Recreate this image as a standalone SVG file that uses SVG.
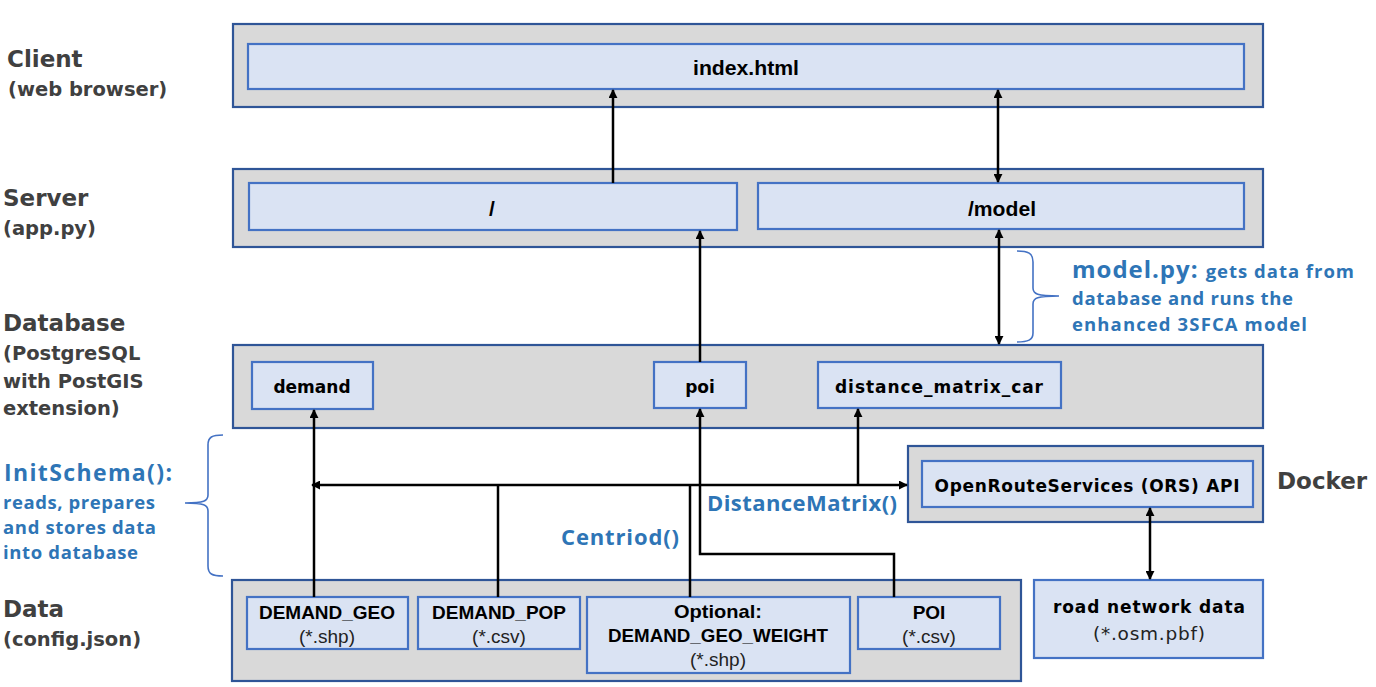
<svg xmlns="http://www.w3.org/2000/svg" width="1376" height="687" viewBox="0 0 1376 687">
<defs>
<style>
.outer{fill:#D9D9D9;stroke:#2F5597;stroke-width:2.2}
.inner{fill:#DAE3F3;stroke:#4472C4;stroke-width:2.2}
.lbl{font-family:"DejaVu Sans",Verdana,sans-serif;font-weight:bold;fill:#404040}
.big{font-size:23px}
.sub{font-size:19.5px}
.blue{font-family:"Open Sans","Noto Sans",sans-serif;font-weight:bold;fill:#2E75B6}
.cond{font-family:"Liberation Sans",Arial,sans-serif;font-weight:bold;fill:#000;text-anchor:middle}
.reg{font-family:"Liberation Sans",Arial,sans-serif;fill:#222;text-anchor:middle;font-size:19px}
.geo{font-family:"DejaVu Sans",Verdana,sans-serif;font-weight:bold;fill:#000;text-anchor:middle;font-size:17px}
.geor{font-family:"DejaVu Sans",Verdana,sans-serif;fill:#222;text-anchor:middle;font-size:18.5px}
.wire{fill:none;stroke:#000;stroke-width:2.5}
.brace{fill:none;stroke:#4472C4;stroke-width:1.6}
</style>
<marker id="ah" viewBox="0 0 10 10" refX="9" refY="5" markerWidth="9" markerHeight="9" markerUnits="userSpaceOnUse" orient="auto-start-reverse">
<path d="M0,0 L10,5 L0,10 z" fill="#000"/>
</marker>
</defs>
<rect width="1376" height="687" fill="#fff"/>

<g id="labels">
<text class="lbl big" x="7" y="67">Client</text>
<text class="lbl sub" x="8" y="96">(web browser)</text>
<text class="lbl big" x="3" y="206">Server</text>
<text class="lbl sub" x="3" y="235">(app.py)</text>
<text class="lbl big" x="3" y="331">Database</text>
<text class="lbl sub" x="3" y="360">(PostgreSQL</text>
<text class="lbl sub" x="3" y="388">with PostGIS</text>
<text class="lbl sub" x="3" y="415">extension)</text>
<text class="lbl big" x="3" y="617">Data</text>
<text class="lbl sub" x="3" y="646">(config.json)</text>
<text class="lbl big" x="1277" y="489">Docker</text>
</g>

<g id="client">
<rect class="outer" x="233" y="24" width="1030" height="83"/>
<g id="index-html">
<rect class="inner" x="248" y="44" width="996" height="45"/>
<text class="cond" x="746" y="75" font-size="21" textLength="106" lengthAdjust="spacingAndGlyphs">index.html</text>
</g>
</g>

<g id="server">
<rect class="outer" x="233" y="169" width="1030" height="78"/>
<g id="root-route">
<rect class="inner" x="249" y="183" width="488" height="47"/>
<text class="cond" x="492" y="216" font-size="21">/</text>
</g>
<g id="model-route">
<rect class="inner" x="758" y="183" width="486" height="46"/>
<text class="cond" x="1002" y="216" font-size="21" textLength="68" lengthAdjust="spacingAndGlyphs">/model</text>
</g>
</g>

<g id="database">
<rect class="outer" x="233" y="345" width="1030" height="83"/>
<g id="demand">
<rect class="inner" x="252" y="362" width="121" height="47"/>
<text class="geo" x="312" y="393">demand</text>
</g>
<g id="poi">
<rect class="inner" x="654" y="362" width="92" height="46"/>
<text class="geo" x="700" y="393">poi</text>
</g>
<g id="distance-matrix-car">
<rect class="inner" x="818" y="362" width="243" height="46"/>
<text class="geo" x="939" y="393" textLength="208">distance_matrix_car</text>
</g>
</g>

<g id="docker">
<rect class="outer" x="908" y="446" width="355" height="76"/>
<g id="ors">
<rect class="inner" x="922" y="461" width="331" height="46"/>
<text class="geo" x="1087" y="492" textLength="305">OpenRouteServices (ORS) API</text>
</g>
</g>

<g id="road-network">
<rect class="inner" x="1034" y="580" width="229" height="78"/>
<text class="geo" x="1149" y="613" textLength="192">road network data</text>
<text class="geor" x="1149" y="640" textLength="112">(*.osm.pbf)</text>
</g>

<g id="data">
<rect class="outer" x="232" y="580" width="789" height="101"/>
<g id="demand-geo">
<rect class="inner" x="247" y="597" width="161" height="52"/>
<text class="cond" x="327" y="619" font-size="19" textLength="136" lengthAdjust="spacingAndGlyphs">DEMAND_GEO</text>
<text class="reg" x="327" y="643">(*.shp)</text>
</g>
<g id="demand-pop">
<rect class="inner" x="418" y="597" width="162" height="52"/>
<text class="cond" x="499" y="619" font-size="19" textLength="134" lengthAdjust="spacingAndGlyphs">DEMAND_POP</text>
<text class="reg" x="499" y="643">(*.csv)</text>
</g>
<g id="demand-geo-weight">
<rect class="inner" x="587" y="597" width="263" height="76"/>
<text class="cond" x="718" y="618" font-size="19" textLength="88" lengthAdjust="spacingAndGlyphs">Optional:</text>
<text class="cond" x="718" y="642" font-size="19" textLength="220" lengthAdjust="spacingAndGlyphs">DEMAND_GEO_WEIGHT</text>
<text class="reg" x="718" y="666">(*.shp)</text>
</g>
<g id="poi-csv">
<rect class="inner" x="858" y="597" width="142" height="52"/>
<text class="cond" x="929" y="619" font-size="19">POI</text>
<text class="reg" x="929" y="643">(*.csv)</text>
</g>
</g>

<g id="annotations">
<path class="brace" d="M1017,251 C1028,251 1033,253 1033,262 L1033,288 C1033,294 1037,296 1059,296 C1037,296 1033,298 1033,304 L1033,333 C1033,340 1028,342 1017,342"/>
<text class="blue" x="1072" y="278" textLength="282"><tspan font-size="24">model.py: </tspan><tspan font-size="18.5">gets data from</tspan></text>
<text class="blue" x="1072" y="305" font-size="18.5" textLength="221">database and runs the</text>
<text class="blue" x="1072" y="331" font-size="18.5" textLength="235">enhanced 3SFCA model</text>
<path class="brace" d="M223,435 C212,435 208,437 208,445 L208,495 C208,501 204,503 185,503 C204,503 208,505 208,511 L208,566 C208,574 212,576 223,576"/>
<text class="blue" x="4" y="481" font-size="23" textLength="168">InitSchema():</text>
<text class="blue" x="3" y="509" font-size="18.5" textLength="152">reads, prepares</text>
<text class="blue" x="3" y="534" font-size="18.5" textLength="153">and stores data</text>
<text class="blue" x="3" y="559" font-size="18.5" textLength="135">into database</text>
<text class="blue" x="561" y="545" font-size="22" textLength="118">Centriod()</text>
<text class="blue" x="707" y="511" font-size="22" textLength="190">DistanceMatrix()</text>
</g>

<g id="connectors">
<line class="wire" x1="613" y1="183" x2="613" y2="90" marker-end="url(#ah)"/>
<line class="wire" x1="998" y1="90" x2="998" y2="182" marker-start="url(#ah)" marker-end="url(#ah)"/>
<line class="wire" x1="700" y1="362" x2="700" y2="231" marker-end="url(#ah)"/>
<line class="wire" x1="999" y1="230" x2="999" y2="344" marker-start="url(#ah)" marker-end="url(#ah)"/>
<line class="wire" x1="314" y1="597" x2="314" y2="410" marker-end="url(#ah)"/>
<line class="wire" x1="312" y1="485" x2="907" y2="485" marker-start="url(#ah)" marker-end="url(#ah)"/>
<line class="wire" x1="498" y1="597" x2="498" y2="485"/>
<line class="wire" x1="690" y1="597" x2="690" y2="486"/>
<line class="wire" x1="858" y1="485" x2="858" y2="409" marker-end="url(#ah)"/>
<path class="wire" d="M894,597 L894,554 L700,554 L700,409" marker-end="url(#ah)"/>
<line class="wire" x1="1150" y1="508" x2="1150" y2="579" marker-start="url(#ah)" marker-end="url(#ah)"/>
</g>
</svg>
